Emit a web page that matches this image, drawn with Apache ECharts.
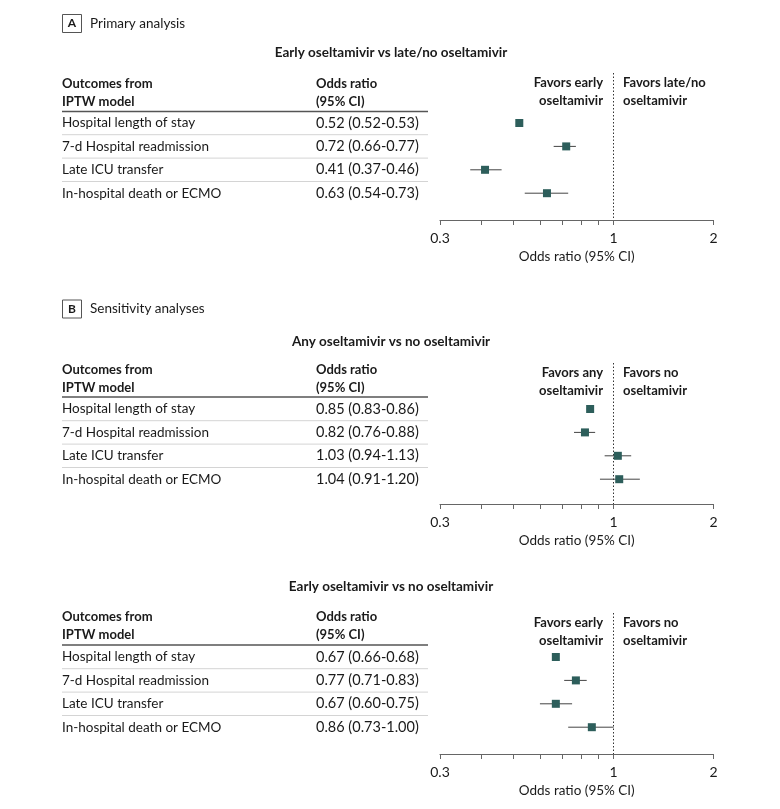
<!DOCTYPE html>
<html>
<head>
<meta charset="utf-8">
<title>Oseltamivir forest plot</title>
<script src="https://cdn.jsdelivr.net/npm/echarts@6/dist/echarts.min.js"></script>
<style>
html, body { margin: 0; padding: 0; background: #fff; }
#chart { width: 780px; height: 809px; }
</style>
</head>
<body>
<div id="chart"></div>
<script type="text/javascript">
// data
var outcomes = ['Hospital length of stay', '7-d Hospital readmission', 'Late ICU transfer', 'In-hospital death or ECMO'];

var orA = [0.52, 0.72, 0.41, 0.63];
var loA = [0.52, 0.66, 0.37, 0.54];
var hiA = [0.53, 0.77, 0.46, 0.73];

var orB1 = [0.85, 0.82, 1.03, 1.04];
var loB1 = [0.83, 0.76, 0.94, 0.91];
var hiB1 = [0.86, 0.88, 1.13, 1.20];

var orB2 = [0.67, 0.77, 0.67, 0.86];
var loB2 = [0.66, 0.71, 0.60, 0.73];
var hiB2 = [0.68, 0.83, 0.75, 1.00];

var tickValues = [0.3, 0.4, 0.5, 0.6, 0.7, 0.8, 0.9, 1, 2];
var labelValues = [0.3, 1, 2];

// layout of each block (pixels)
var FONT = 'Lato, "Noto Sans", sans-serif';
var blocks = [
    { title: 'Early oseltamivir vs late/no oseltamivir', favL: ['Favors early', 'oseltamivir'], favR: ['Favors late/no', 'oseltamivir'],
      or: orA, lo: loA, hi: hiA, subY: 53, headY: 84, lineY: 111.5, rowY: 123, axisY: 220, dashY: 73 },
    { title: 'Any oseltamivir vs no oseltamivir', favL: ['Favors any', 'oseltamivir'], favR: ['Favors no', 'oseltamivir'],
      or: orB1, lo: loB1, hi: hiB1, subY: 342, headY: 370, lineY: 397, rowY: 409, axisY: 504, dashY: 363 },
    { title: 'Early oseltamivir vs no oseltamivir', favL: ['Favors early', 'oseltamivir'], favR: ['Favors no', 'oseltamivir'],
      or: orB2, lo: loB2, hi: hiB2, subY: 587, headY: 617, lineY: 645, rowY: 657, axisY: 754, dashY: 613 }
];
var STEP = 23.4;
var PLOT_L = 440, PLOT_R = 713.5;
var log10 = function (v) { return Math.log(v) / Math.LN10; };

var grids = [], xAxes = [], yAxes = [], series = [], graphics = [];

function txt(x, y, s, opt) {
    opt = opt || {};
    graphics.push({
        type: 'text', silent: true,
        style: {
            x: x, y: y, text: s,
            font: (opt.weight || 'normal') + ' ' + (opt.size || 13.5) + 'px ' + FONT,
            fill: opt.color || '#1a1a1a',
            textAlign: opt.align || 'left',
            textVerticalAlign: 'middle'
        }
    });
}
function hline(x1, x2, y, color, w) {
    graphics.push({ type: 'line', silent: true, shape: { x1: x1, y1: y, x2: x2, y2: y },
        style: { stroke: color, lineWidth: w } });
}
function letterBox(y, letter, label) {
    graphics.push({ type: 'rect', silent: true, shape: { x: 62.5, y: y - 9, width: 19, height: 18 },
        style: { fill: '#fff', stroke: '#555', lineWidth: 1 } });
    txt(72, y, letter, { weight: 'bold', size: 12, align: 'center' });
    txt(90, y, label, { size: 13.5 });
}

letterBox(23.5, 'A', 'Primary analysis');
letterBox(309, 'B', 'Sensitivity analyses');

blocks.forEach(function (b, k) {
    // table
    txt(391, b.subY, b.title, { weight: 'bold', size: 13.5, align: 'center' });
    txt(62, b.headY, 'Outcomes from', { weight: 'bold', size: 13 });
    txt(62, b.headY + 17.5, 'IPTW model', { weight: 'bold', size: 13 });
    txt(316, b.headY, 'Odds ratio', { weight: 'bold', size: 13 });
    txt(316, b.headY + 17.5, '(95% CI)', { weight: 'bold', size: 13 });
    hline(62, 428, b.lineY, '#555', 1.5);
    outcomes.forEach(function (name, i) {
        var y = b.rowY + i * STEP;
        txt(62, y, name);
        txt(316, y, b.or[i].toFixed(2) + ' (' + b.lo[i].toFixed(2) + '-' + b.hi[i].toFixed(2) + ')', { size: 14.5 });
        if (i < outcomes.length - 1) hline(62, 428, y + STEP / 2, '#d4d4d4', 1);
    });
    // favors labels
    txt(603, b.dashY + 10, b.favL[0], { weight: 'bold', size: 13, align: 'right' });
    txt(603, b.dashY + 28, b.favL[1], { weight: 'bold', size: 13, align: 'right' });
    txt(623, b.dashY + 10, b.favR[0], { weight: 'bold', size: 13 });
    txt(623, b.dashY + 28, b.favR[1], { weight: 'bold', size: 13 });

    // plot
    grids.push({ left: PLOT_L, width: PLOT_R - PLOT_L, top: b.dashY, height: b.axisY - b.dashY });
    xAxes.push({
        gridIndex: k, type: 'value',
        min: log10(0.3), max: log10(2),
        name: 'Odds ratio (95% CI)', nameLocation: 'middle', nameGap: 30,
        nameTextStyle: { fontFamily: FONT, fontSize: 13.5, color: '#1a1a1a' },
        splitLine: { show: false },
        axisLine: { onZero: false, lineStyle: { color: '#666', width: 1.2 } },
        axisTick: { length: 5, lineStyle: { color: '#666' }, customValues: tickValues.map(log10) },
        axisLabel: {
            margin: 11, fontFamily: FONT, fontSize: 14, color: '#1a1a1a',
            customValues: labelValues.map(log10),
            formatter: function (v) { return String(Math.round(Math.pow(10, v) * 10) / 10); }
        }
    });
    yAxes.push({
        gridIndex: k, type: 'value', inverse: true, show: false,
        min: -(b.rowY - b.dashY) / STEP, max: (b.axisY - b.rowY) / STEP
    });
    series.push({
        type: 'custom', xAxisIndex: k, yAxisIndex: k, silent: true,
        data: b.or.map(function (v, i) { return [log10(b.lo[i]), log10(b.hi[i]), i]; }),
        renderItem: function (params, api) {
            var p1 = api.coord([api.value(0), api.value(2)]);
            var p2 = api.coord([api.value(1), api.value(2)]);
            return { type: 'line', shape: { x1: p1[0], y1: p1[1], x2: p2[0], y2: p2[1] },
                style: { stroke: '#444', lineWidth: 1 } };
        },
        markLine: {
            silent: true, symbol: 'none', label: { show: false },
            lineStyle: { type: [1.5, 2], color: '#333', width: 1 },
            data: [{ xAxis: 0 }]
        }
    });
    series.push({
        type: 'scatter', xAxisIndex: k, yAxisIndex: k, silent: true,
        symbol: 'rect', symbolSize: 8,
        itemStyle: { color: '#2d5e5b', opacity: 1 },
        data: b.or.map(function (v, i) { return [log10(v), i]; }),
        z: 5
    });
});

var chart = echarts.init(document.getElementById('chart'));
chart.setOption({
    animation: false,
    grid: grids,
    xAxis: xAxes,
    yAxis: yAxes,
    series: series,
    graphic: { elements: graphics }
});
</script>
</body>
</html>
